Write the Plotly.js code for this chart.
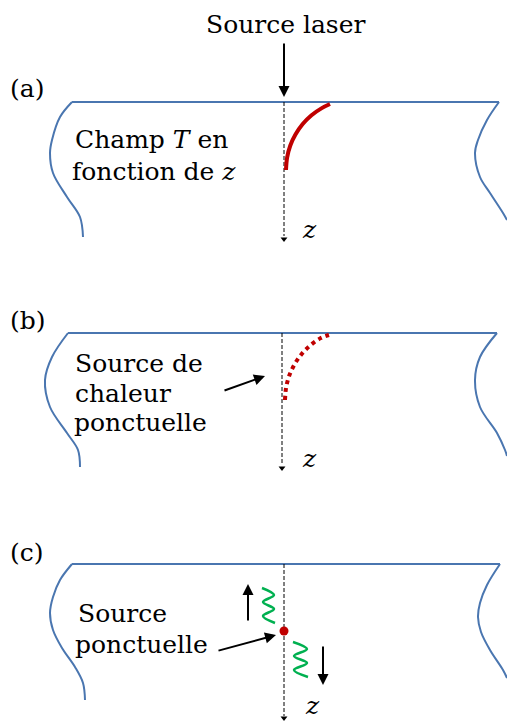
<!DOCTYPE html>
<html><head><meta charset="utf-8">
<script src="https://cdn.plot.ly/plotly-3.0.1.min.js"></script>
<style>html,body{margin:0;padding:0;background:#fff}</style>
</head><body><div id="chart" style="width:507px;height:721px"></div>
<script>
// ---------- panel (a) ----------
const aLeftX  = [72, 60, 52, 50, 53, 67, 80, 83];
const aLeftY  = [102, 117, 140, 153, 173, 197, 217, 237];
const aRightX = [499, 487, 478, 475, 480, 490, 503, 507];
const aRightY = [102, 120, 140, 153, 177, 193, 213, 220];
const aTopX   = [72, 499];
const aTopY   = [102, 102];
const aAxisX  = [284, 284];
const aAxisY  = [102, 236];
const aCurveX = [286, 287.1, 290.3, 295.6, 302.7, 311.5, 321.8, 330];
const aCurveY = [170, 157.6, 145.5, 134.3, 124, 115.2, 108.1, 104];

// ---------- panel (b) ----------
const bLeftX  = [68, 52, 45, 50, 67, 78, 80];
const bLeftY  = [333, 357, 380, 407, 433, 450, 467];
const bRightX = [497, 480, 475, 480, 497, 505, 507];
const bRightY = [333, 357, 380, 407, 433, 450, 456];
const bTopX   = [68, 497];
const bTopY   = [333, 333];
const bAxisX  = [282, 282];
const bAxisY  = [333, 465];
const bCurveX = [285, 286.1, 289.3, 294.6, 301.7, 310.5, 320.8, 329];
const bCurveY = [400, 387.6, 375.5, 364.3, 354, 345.2, 338.1, 335];

// ---------- panel (c) ----------
const cLeftX  = [72, 60, 53, 50, 53, 62, 75, 83, 85];
const cLeftY  = [564, 580, 597, 613, 630, 648, 667, 683, 700];
const cRightX = [500, 487, 480, 478, 481, 490, 503, 507];
const cRightY = [564, 585, 603, 617, 632, 650, 670, 678];
const cTopX   = [72, 500];
const cTopY   = [564, 564];
const cAxisX  = [284, 284];
const cAxisY  = [564, 716];
const cDotX   = [284];
const cDotY   = [631];
const wave1X  = [262, 274, 263, 274, 263, 275];
const wave1Y  = [588, 595, 602, 609, 616, 623];
const wave2X  = [293, 307, 294, 307, 294, 308];
const wave2Y  = [642, 649, 656, 663, 670, 677];

// arrow heads of the z axes
const tipX = [284, 282, 284];
const tipY = [239, 468, 718];

const BLUE = '#4a76b0', RED = '#c00000', GREEN = '#00b050';
const edge = (x, y) => ({x, y, mode:'lines', type:'scatter', hoverinfo:'skip',
  line:{color:BLUE, width:2, shape:'spline', smoothing:1}});
const flat = (x, y) => ({x, y, mode:'lines', type:'scatter', hoverinfo:'skip',
  line:{color:BLUE, width:2}});
const axis = (x, y) => ({x, y, mode:'lines', type:'scatter', hoverinfo:'skip',
  line:{color:'#000', width:1, dash:'4px,2px'}});

const traces = [
  edge(aLeftX, aLeftY), edge(aRightX, aRightY), flat(aTopX, aTopY), axis(aAxisX, aAxisY),
  {x:aCurveX, y:aCurveY, mode:'lines', type:'scatter', line:{color:RED, width:4, shape:'spline'}},
  edge(bLeftX, bLeftY), edge(bRightX, bRightY), flat(bTopX, bTopY), axis(bAxisX, bAxisY),
  {x:bCurveX, y:bCurveY, mode:'lines', type:'scatter', line:{color:RED, width:4, dash:'dot', shape:'spline'}},
  edge(cLeftX, cLeftY), edge(cRightX, cRightY), flat(cTopX, cTopY), axis(cAxisX, cAxisY),
  {x:wave1X, y:wave1Y, mode:'lines', type:'scatter', line:{color:GREEN, width:2.5, shape:'spline', smoothing:1}},
  {x:wave2X, y:wave2Y, mode:'lines', type:'scatter', line:{color:GREEN, width:2.5, shape:'spline', smoothing:1}},
  {x:cDotX, y:cDotY, mode:'markers', type:'scatter', marker:{color:RED, size:9}},
  {x:tipX, y:tipY, mode:'markers', type:'scatter', marker:{color:'#000', size:6, symbol:'triangle-down'}}
];

const F = "'DejaVu Serif', serif";
const S = 25;
const txt = (x, y, text, xanchor='left') => ({x, y, xref:'x', yref:'y', text, showarrow:false,
  xanchor, yanchor:'middle', borderpad:0, font:{family:F, size:S, color:'#000'}});
const arr = (x, y, ax, ay, w=2) => ({x, y, ax, ay, xref:'x', yref:'y', axref:'x', ayref:'y',
  text:'', showarrow:true, arrowhead:2, arrowsize:1.1, arrowwidth:w, arrowcolor:'#000'});

const annotations = [
  txt(285, 24.3, 'Source laser', 'center'),
  txt(9, 88.4, '(a)'),
  txt(74, 139.3, 'Champ <i>T</i> en'),
  txt(71, 171.3, 'fonction de <i>z</i>'),
  txt(309, 229.3, '<i>z</i>', 'center'),
  txt(9, 320.4, '(b)'),
  txt(74, 363.8, 'Source de'),
  txt(74, 393.3, 'chaleur'),
  txt(73, 422.8, 'ponctuelle'),
  txt(309, 458.3, '<i>z</i>', 'center'),
  txt(9, 552, '(c)'),
  txt(77, 613.3, 'Source'),
  txt(74, 644.3, 'ponctuelle'),
  txt(312, 705.5, '<i>z</i>', 'center'),
  arr(284, 97, 284, 42),
  arr(265, 376, 223, 391),
  arr(276, 635, 217, 651),
  arr(248, 584, 248, 622),
  arr(323, 685, 323, 645)
];

const layout = {
  width:507, height:721, margin:{l:0, r:0, t:0, b:0},
  paper_bgcolor:'#fff', plot_bgcolor:'#fff', showlegend:false,
  xaxis:{range:[0,507], visible:false, fixedrange:true},
  yaxis:{range:[721,0], visible:false, fixedrange:true},
  annotations
};
Plotly.newPlot('chart', traces, layout, {staticPlot:true, displayModeBar:false});
</script></body></html>
